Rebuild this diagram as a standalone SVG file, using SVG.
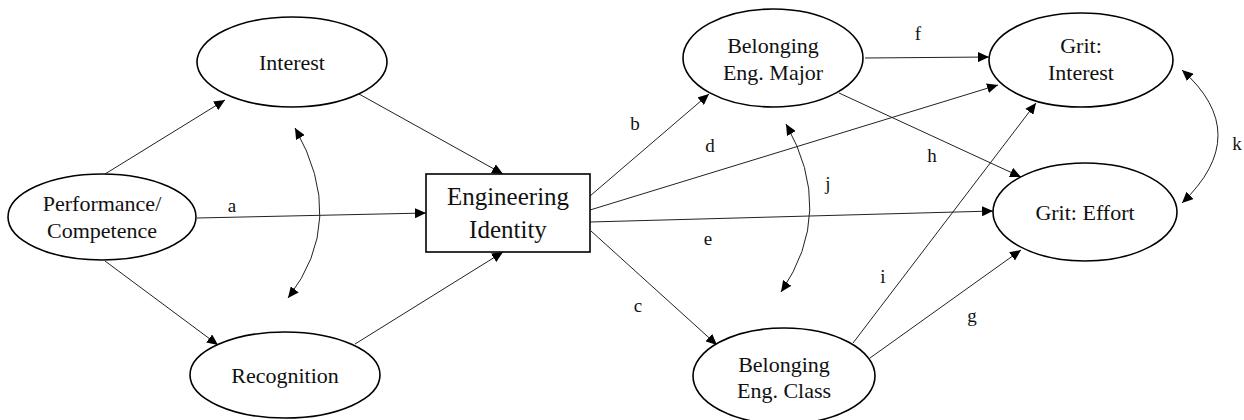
<svg xmlns="http://www.w3.org/2000/svg" width="1244" height="420" viewBox="0 0 1244 420">
<defs>
<marker id="ah" markerUnits="userSpaceOnUse" markerWidth="12" markerHeight="10" refX="11" refY="5" orient="auto-start-reverse" viewBox="0 0 12 10">
<path d="M0,0 L11,5 L0,10 z" fill="#000"/>
</marker>
<style>
.n{fill:#fff;stroke:#000;stroke-width:1.6}
text{font-family:'Liberation Serif','Times New Roman','DejaVu Serif',serif;fill:#111;text-anchor:middle}
.t{font-size:22px}
.big{font-size:25px}
.lb{font-size:19px}
.c{fill:none;stroke:#222;stroke-width:1;marker-end:url(#ah)}
.cc{fill:none;stroke:#222;stroke-width:1;marker-end:url(#ah);marker-start:url(#ah)}
</style>
</defs>
<rect width="1244" height="420" fill="#fff"/>
<g id="connectors">
<path class="c" d="M105,174 L225,100"/>
<path class="c" d="M105,261 L218,345"/>
<path class="c" d="M197,218 L426,213"/>
<path class="c" d="M359,94 L503,174"/>
<path class="c" d="M355,344 L503,252"/>
<path class="cc" d="M295,128 Q348,221 288,298"/>
<path class="c" d="M590,196 L709,94"/>
<path class="c" d="M590,210 L998,85"/>
<path class="c" d="M590,222 L993,211"/>
<path class="c" d="M591,231 L717,345"/>
<path class="c" d="M865,58 L989,57"/>
<path class="c" d="M839,93 L1021,177"/>
<path class="c" d="M853,343 L1036,103"/>
<path class="c" d="M870,358 L1021,250"/>
<path class="cc" d="M786,124 Q836,212 781,292"/>
<path class="cc" d="M1182,70 Q1254,134 1182,203"/>
<text class="lb" x="232" y="212" font-family="Liberation Serif, serif">a</text>
<text class="lb" x="635" y="130" font-family="Liberation Serif, serif">b</text>
<text class="lb" x="710" y="152" font-family="Liberation Serif, serif">d</text>
<text class="lb" x="708" y="245" font-family="Liberation Serif, serif">e</text>
<text class="lb" x="638" y="312" font-family="Liberation Serif, serif">c</text>
<text class="lb" x="918" y="40" font-family="Liberation Serif, serif">f</text>
<text class="lb" x="932" y="162" font-family="Liberation Serif, serif">h</text>
<text class="lb" x="883" y="283" font-family="Liberation Serif, serif">i</text>
<text class="lb" x="972" y="322" font-family="Liberation Serif, serif">g</text>
<text class="lb" x="828" y="190" font-family="Liberation Serif, serif">j</text>
<text class="lb" x="1237" y="150" font-family="Liberation Serif, serif">k</text>
</g>
<g id="interest">
<ellipse class="n" cx="292" cy="62" rx="95" ry="45"/>
<text class="t" x="292" y="70">Interest</text>
</g>
<g id="performance">
<ellipse class="n" cx="102" cy="217" rx="94" ry="43"/>
<text class="t" x="102" y="211">Performance/</text>
<text class="t" x="102" y="238">Competence</text>
</g>
<g id="recognition">
<ellipse class="n" cx="285" cy="375" rx="95" ry="43"/>
<text class="t" x="285" y="383">Recognition</text>
</g>
<g id="identity">
<rect class="n" x="426" y="174" width="164" height="78"/>
<text class="t big" x="508" y="205">Engineering</text>
<text class="t big" x="508" y="238">Identity</text>
</g>
<g id="belonging-major">
<ellipse class="n" cx="773" cy="58" rx="90" ry="49"/>
<text class="t" x="773" y="53">Belonging</text>
<text class="t" x="773" y="80">Eng. Major</text>
</g>
<g id="belonging-class">
<ellipse class="n" cx="784" cy="376" rx="91" ry="48"/>
<text class="t" x="784" y="372">Belonging</text>
<text class="t" x="784" y="398">Eng. Class</text>
</g>
<g id="grit-interest">
<ellipse class="n" cx="1081" cy="60" rx="92" ry="47"/>
<text class="t" x="1081" y="53">Grit:</text>
<text class="t" x="1081" y="80">Interest</text>
</g>
<g id="grit-effort">
<ellipse class="n" cx="1085" cy="212" rx="92" ry="49"/>
<text class="t" x="1085" y="220">Grit: Effort</text>
</g>
</svg>
